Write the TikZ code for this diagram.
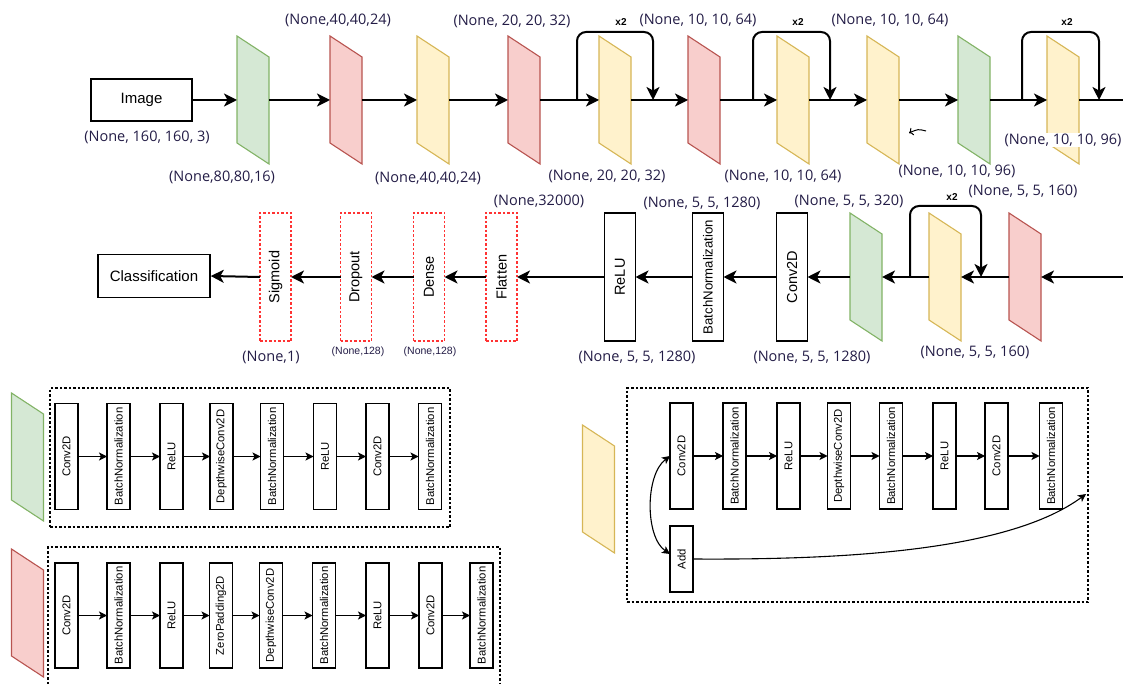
\documentclass[tikz,border=0pt]{standalone}
\usepackage{fontspec}
\setmainfont{Liberation Sans}
\newfontfamily\lblfont{Open Sans}
\usepackage{graphicx}
\usetikzlibrary{arrows.meta}
\definecolor{gfill}{HTML}{D5E8D4}\definecolor{gline}{HTML}{82B366}
\definecolor{rfill}{HTML}{F8CECC}\definecolor{rline}{HTML}{B85450}
\definecolor{yfill}{HTML}{FFF2CC}\definecolor{yline}{HTML}{D6B656}
\definecolor{lblcol}{RGB}{35,28,70}
\definecolor{dashred}{HTML}{FF3333}
\tikzset{
 parabox/.style={minimum width=32pt, minimum height=128pt, inner sep=0pt, outer sep=0pt},
 bigbox/.style={draw, line width=1.5pt, fill=white, inner sep=0pt, font=\fontsize{15}{18}\selectfont},
 vbox/.style={draw, line width=1.4pt, fill=white, minimum width=31pt, minimum height=128pt, inner sep=0pt, outer sep=0pt, font=\fontsize{14.5}{17}\selectfont},
 redbox/.style={vbox, draw=dashred, line width=1.2pt, dash pattern=on 2.5pt off 2pt},
 sbox/.style={draw, line width=1.1pt, fill=white, minimum width=23pt, minimum height=106pt, inner sep=0pt, outer sep=0pt, font=\fontsize{11.3}{13}\selectfont},
 lbl/.style={font=\lblfont\fontsize{14.5}{17}\selectfont, text=lblcol, inner sep=1pt},
 slbl/.style={font=\fontsize{10.5}{12}\selectfont, text=lblcol, inner sep=1pt},
 bigtip/.style={-{Stealth[length=13pt,width=13pt,inset=3.5pt]}},
 mainline/.style={line width=2pt, bigtip},
 plainline/.style={line width=2pt},
 skipline/.style={line width=2pt, rounded corners=9pt, bigtip},
 xtwo/.style={font=\bfseries\fontsize{10}{12}\selectfont, inner sep=1pt},
 sflow/.style={line width=1.1pt, -{Stealth[length=8pt,width=8pt,inset=2pt]}},
 dashbox/.style={draw, line width=1.1pt, dash pattern=on 2.5pt off 2pt},
}
\newcommand\mkpara[5]{%
 \node[parabox] (#1) at (#2,#3) {};
 \draw[draw=#5, fill=#4, line width=1.1pt] (#1.north west) -- ([yshift=-21pt]#1.north east) -- (#1.south east) -- ([yshift=21pt]#1.south west) -- cycle;
}
\newcommand\vt[1]{\rotatebox{90}{#1}}
\begin{document}
\begin{tikzpicture}[x=1pt,y=-1pt]
\useasboundingbox (0,0) rectangle (1123,684);

% ---------------- top row ----------------
\node[bigbox, minimum width=101pt, minimum height=42pt] (img) at (141.5,100) {Image};
\mkpara{g1}{253}{100}{gfill}{gline}
\mkpara{p1}{346}{100}{rfill}{rline}
\mkpara{y1}{433}{100}{yfill}{yline}
\mkpara{p2}{524}{100}{rfill}{rline}
\mkpara{y2}{615}{100}{yfill}{yline}
\mkpara{p3}{704}{100}{rfill}{rline}
\mkpara{y3}{793}{100}{yfill}{yline}
\mkpara{y4}{883}{100}{yfill}{yline}
\mkpara{g2}{974}{100}{gfill}{gline}
\mkpara{y5}{1063}{100}{yfill}{yline}
\coordinate (tend) at (1123,100);

\draw[mainline] (img.east) -- (g1.west);
\draw[mainline] (g1.east) -- (p1.west);
\draw[mainline] (p1.east) -- (y1.west);
\draw[mainline] (y1.east) -- (p2.west);
\draw[mainline] (p2.east) -- (y2.west);
\draw[mainline] (y2.east) -- (p3.west);
\draw[mainline] (p3.east) -- (y3.west);
\draw[mainline] (y3.east) -- (y4.west);
\draw[mainline] (y4.east) -- (g2.west);
\draw[mainline] (g2.east) -- (y5.west);
\draw[plainline] (y5.east) -- (tend);

\coordinate (s1a) at (577,100); \coordinate (s1b) at (653,100);
\coordinate (s2a) at (753,100); \coordinate (s2b) at (830,100);
\coordinate (s3a) at (1022,100); \coordinate (s3b) at (1099,100);
\draw[skipline] (s1a) -- (577,32) -- (653,32) -- (s1b);
\draw[skipline] (s2a) -- (753,32) -- (830,32) -- (s2b);
\draw[skipline] (s3a) -- (1022,32) -- (1099,32) -- (s3b);
\node[xtwo] (x2a) at (621,22) {x2};
\node[xtwo] (x2b) at (798,22) {x2};
\node[xtwo] (x2c) at (1067,22) {x2};

% stray hand-drawn arrow
\coordinate (ha) at (926,131); \coordinate (hb) at (909,133);
\draw[line width=1pt, -{To[length=4pt,width=8pt]}] (ha) .. controls (918,129) .. (hb);

\node[lbl] (l0) at (147,137) {(None, 160, 160, 3)};
\node[lbl] (l1) at (222,177) {(None,80,80,16)};
\node[lbl] (l2) at (338,20) {(None,40,40,24)};
\node[lbl] (l3) at (428,178) {(None,40,40,24)};
\node[lbl] (l4) at (512,21) {(None, 20, 20, 32)};
\node[lbl] (l5) at (607,176) {(None, 20, 20, 32)};
\node[lbl] (l6) at (698,20) {(None, 10, 10, 64)};
\node[lbl] (l7) at (783,176) {(None, 10, 10, 64)};
\node[lbl] (l8) at (890,20) {(None, 10, 10, 64)};
\node[lbl] (l9) at (957,171) {(None, 10, 10, 96)};
\node[lbl, fill=white] (l10) at (1063,140) {(None, 10, 10, 96)};

% ---------------- middle row ----------------
\node[bigbox, minimum width=112pt, minimum height=43pt] (cls) at (154,276) {Classification};
\node[redbox] (sig) at (275.5,277) {\vt{Sigmoid}};
\node[redbox] (drop) at (356,277) {\vt{Dropout}};
\node[redbox] (dense) at (429,277) {\vt{Dense}};
\node[redbox] (flat) at (501.5,277) {\vt{Flatten}};
\node[vbox] (relu) at (620,277) {\vt{ReLU}};
\node[vbox, font=\fontsize{13.2}{15}\selectfont] (bnm) at (708,277) {\vt{BatchNormalization}};
\node[vbox] (conv) at (792,277) {\vt{Conv2D}};
\mkpara{g3}{866}{277}{gfill}{gline}
\mkpara{y6}{945}{277}{yfill}{yline}
\mkpara{p4}{1025}{277}{rfill}{rline}
\coordinate (tin) at (1123,277);

\draw[mainline] (tin) -- (p4.east);
\draw[mainline] (p4.west) -- (y6.east);
\draw[mainline] (y6.west) -- (g3.east);
\draw[mainline] (g3.west) -- (conv.east);
\draw[mainline] (conv.west) -- (bnm.east);
\draw[mainline] (bnm.west) -- (relu.east);
\draw[mainline] (relu.west) -- (flat.east);
\draw[mainline] (flat.west) -- (dense.east);
\draw[mainline] (dense.west) -- (drop.east);
\draw[mainline] (drop.west) -- (sig.east);
\draw[mainline] (sig.west) -- (cls.east);

\coordinate (s4a) at (910,277); \coordinate (s4b) at (981,277);
\draw[skipline] (s4a) -- (910,206) -- (981,206) -- (s4b);
\node[xtwo] (x2d) at (952,197) {x2};

\node[lbl] (m1) at (539,201) {(None,32000)};
\node[lbl] (m2) at (702,203) {(None, 5, 5, 1280)};
\node[lbl] (m3) at (849,201) {(None, 5, 5, 320)};
\node[lbl] (m4) at (1023,191) {(None, 5, 5, 160)};
\node[lbl] (m5) at (975,352) {(None, 5, 5, 160)};
\node[lbl] (m6) at (637,357) {(None, 5, 5, 1280)};
\node[lbl] (m7) at (812,357) {(None, 5, 5, 1280)};
\node[lbl] (m8) at (271,357) {(None,1)};
\node[slbl] (m9) at (358,352) {(None,128)};
\node[slbl] (m10) at (430,352) {(None,128)};

% ---------------- legend: green block ----------------
\mkpara{lg}{27.5}{457}{gfill}{gline}
\node[dashbox, minimum width=400pt, minimum height=139pt, inner sep=0pt] (dbg) at (250,457.5) {};
\node[sbox] (ga1) at (66.5,456.5) {\vt{Conv2D}};
\node[sbox] (ga2) at (118.5,456.5) {\vt{BatchNormalization}};
\node[sbox] (ga3) at (171.5,456.5) {\vt{ReLU}};
\node[sbox] (ga4) at (221.5,456.5) {\vt{DepthwiseConv2D}};
\node[sbox] (ga5) at (272,456.5) {\vt{BatchNormalization}};
\node[sbox] (ga6) at (325,456.5) {\vt{ReLU}};
\node[sbox] (ga7) at (377.5,456.5) {\vt{Conv2D}};
\node[sbox] (ga8) at (430,456.5) {\vt{BatchNormalization}};
\foreach \a/\b in {ga1/ga2,ga2/ga3,ga3/ga4,ga4/ga5,ga5/ga6,ga6/ga7,ga7/ga8}
  \draw[sflow] (\a.east) -- (\b.west);

% ---------------- legend: red block ----------------
\mkpara{lr}{27.5}{613}{rfill}{rline}
\coordinate (dr1) at (48,684); \coordinate (dr2) at (48,547);
\coordinate (dr3) at (500,547); \coordinate (dr4) at (500,684);
\draw[dashbox] (dr1) -- (dr2) -- (dr3) -- (dr4);
\node[sbox, minimum height=105pt] (ra1) at (66.5,615.5) {\vt{Conv2D}};
\node[sbox, minimum height=105pt] (ra2) at (118.5,615.5) {\vt{BatchNormalization}};
\node[sbox, minimum height=105pt] (ra3) at (171.5,615.5) {\vt{ReLU}};
\node[sbox, minimum height=105pt] (ra4) at (221,615.5) {\vt{ZeroPadding2D}};
\node[sbox, minimum height=105pt] (ra5) at (271,615.5) {\vt{DepthwiseConv2D}};
\node[sbox, minimum height=105pt] (ra6) at (324,615.5) {\vt{BatchNormalization}};
\node[sbox, minimum height=105pt] (ra7) at (377.5,615.5) {\vt{ReLU}};
\node[sbox, minimum height=105pt] (ra8) at (430.5,615.5) {\vt{Conv2D}};
\node[sbox, minimum height=105pt] (ra9) at (481.5,615.5) {\vt{BatchNormalization}};
\foreach \a/\b in {ra1/ra2,ra2/ra3,ra3/ra4,ra4/ra5,ra5/ra6,ra6/ra7,ra7/ra8,ra8/ra9}
  \draw[sflow] (\a.east) -- (\b.west);

% ---------------- legend: yellow block ----------------
\mkpara{ly}{598.5}{489}{yfill}{yline}
\node[dashbox, minimum width=461pt, minimum height=214pt, inner sep=0pt] (dby) at (857.5,495) {};
\node[sbox] (ya1) at (681.5,456) {\vt{Conv2D}};
\node[sbox] (ya2) at (734.5,456) {\vt{BatchNormalization}};
\node[sbox] (ya3) at (788.5,456) {\vt{ReLU}};
\node[sbox] (ya4) at (839,456) {\vt{DepthwiseConv2D}};
\node[sbox] (ya5) at (891,456) {\vt{BatchNormalization}};
\node[sbox] (ya6) at (944.5,456) {\vt{ReLU}};
\node[sbox] (ya7) at (996.5,456) {\vt{Conv2D}};
\node[sbox] (ya8) at (1051,456) {\vt{BatchNormalization}};
\foreach \a/\b in {ya1/ya2,ya2/ya3,ya3/ya4,ya4/ya5,ya5/ya6,ya6/ya7,ya7/ya8}
  \draw[sflow] (\a.east) -- (\b.west);
\node[sbox, minimum height=66pt] (yadd) at (681.5,559) {\vt{Add}};
\draw[line width=1.1pt, {Stealth[length=8pt,width=8pt,inset=2pt]}-{Stealth[length=8pt,width=8pt,inset=2pt]}]
  (ya1.west) .. controls (645,475) and (645,537) .. ([yshift=5pt]yadd.west);
\coordinate (yend) at (1086,494);
\draw[sflow] (yadd.east) .. controls (850,560) and (1010,550) .. (yend);

\end{tikzpicture}
\end{document}
